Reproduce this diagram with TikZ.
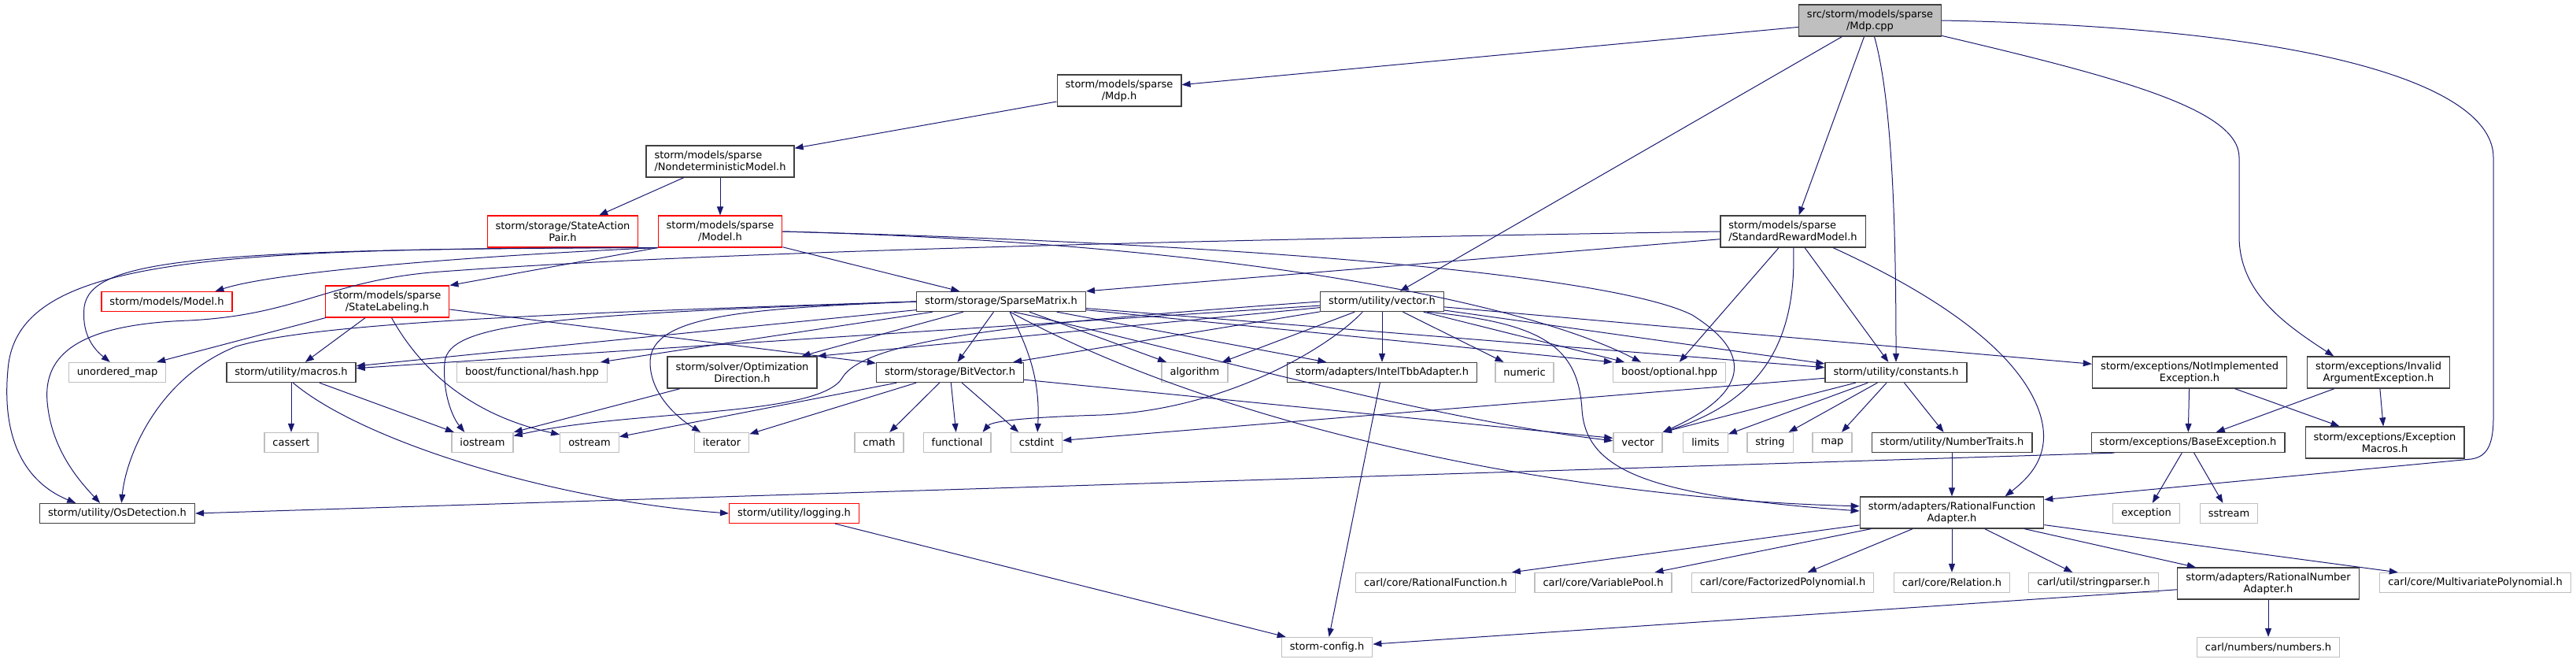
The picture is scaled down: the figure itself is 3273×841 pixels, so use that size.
\documentclass[tikz,border=0pt]{standalone}
\usepackage{fontspec}
\setmainfont{DejaVu Sans}
\usetikzlibrary{arrows.meta}
\definecolor{EdgeBlue}{RGB}{25,25,112}
\definecolor{BoxGray}{RGB}{191,191,191}
\definecolor{BoxDark}{RGB}{64,64,64}
\definecolor{TruncRed}{RGB}{255,0,0}

\begin{document}
\begin{tikzpicture}[x=1pt, y=-1pt,
    hdr/.style={draw=BoxDark, line width=1.3pt, fill=white, text=black, font=\fontsize{13}{15}\selectfont, inner xsep=10.5pt, inner ysep=0pt, minimum height=25pt, align=center},
    sys/.style={hdr, draw=BoxGray},
    trunc/.style={hdr, draw=TruncRed, line width=1.1pt},
    root/.style={hdr, fill=BoxGray},
    twoline/.style={minimum height=40pt},
    incl/.style={EdgeBlue, line width=1pt, -{Triangle[length=11pt,width=8pt]}}]
\useasboundingbox (0,0) rectangle (3273,841);

\node[root, twoline] (mdpcpp) at (2376,26) {src/storm/models/sparse\\/Mdp.cpp};
\node[hdr, twoline] (mdph) at (1422,115) {storm/models/sparse\\/Mdp.h};
\node[hdr, twoline, align=left] (nondet) at (915,205) {storm/models/sparse\\/NondeterministicModel.h};
\node[trunc, twoline] (sap) at (715,294) {storm/storage/StateAction\\Pair.h};
\node[trunc, twoline] (smodel) at (915,294) {storm/models/sparse\\/Model.h};
\node[hdr, twoline, align=left] (srm) at (2278,294) {storm/models/sparse\\/StandardRewardModel.h};
\node[trunc] (mmodel) at (212,383) {storm/models/Model.h};
\node[trunc, twoline] (statelab) at (492,383) {storm/models/sparse\\/StateLabeling.h};
\node[hdr] (sparsemat) at (1272,383) {storm/storage/SparseMatrix.h};
\node[hdr] (vectorh) at (1756,383) {storm/utility/vector.h};
\node[sys] (umap) at (149,473) {unordered\_map};
\node[hdr] (macros) at (370,473) {storm/utility/macros.h};
\node[sys] (hashhpp) at (676,473) {boost/functional/hash.hpp};
\node[hdr, twoline] (optdir) at (943,473) {storm/solver/Optimization\\Direction.h};
\node[hdr] (bitvec) at (1207,473) {storm/storage/BitVector.h};
\node[sys] (algo) at (1518,473) {algorithm};
\node[hdr] (inteltbb) at (1756,473) {storm/adapters/IntelTbbAdapter.h};
\node[sys] (numeric) at (1937,473) {numeric};
\node[sys] (optional) at (2121,473) {boost/optional.hpp};
\node[hdr] (consts) at (2409,473) {storm/utility/constants.h};
\node[hdr, twoline] (notimpl) at (2782,473) {storm/exceptions/NotImplemented\\Exception.h};
\node[hdr, twoline] (invarg) at (3022,473) {storm/exceptions/Invalid\\ArgumentException.h};
\node[sys] (cassert) at (370,562) {cassert};
\node[sys] (iostream) at (613,562) {iostream};
\node[sys] (ostream) at (749,562) {ostream};
\node[sys] (iterator) at (917,562) {iterator};
\node[sys] (cmath) at (1117,562) {cmath};
\node[sys] (functional) at (1216,562) {functional};
\node[sys] (cstdint) at (1317,562) {cstdint};
\node[sys] (stdvec) at (2081,562) {vector};
\node[sys] (limits) at (2167,562) {limits};
\node[sys] (string) at (2249,562) {string};
\node[sys] (map) at (2328,562) {map};
\node[hdr] (numtraits) at (2480,562) {storm/utility/NumberTraits.h};
\node[hdr] (baseexc) at (2780,562) {storm/exceptions/BaseException.h};
\node[hdr, twoline] (excmacros) at (3030,562) {storm/exceptions/Exception\\Macros.h};
\node[hdr] (osdet) at (149,652) {storm/utility/OsDetection.h};
\node[trunc] (logging) at (1009,652) {storm/utility/logging.h};
\node[hdr, twoline] (rfa) at (2480,651) {storm/adapters/RationalFunction\\Adapter.h};
\node[sys] (exception) at (2727,652) {exception};
\node[sys] (sstream) at (2832,652) {sstream};
\node[sys] (carlrf) at (1824,740) {carl/core/RationalFunction.h};
\node[sys] (varpool) at (2037,740) {carl/core/VariablePool.h};
\node[sys] (factpoly) at (2265,740) {carl/core/FactorizedPolynomial.h};
\node[sys] (relation) at (2480,740) {carl/core/Relation.h};
\node[sys] (strparser) at (2660,740) {carl/util/stringparser.h};
\node[hdr, twoline] (rna) at (2882,741) {storm/adapters/RationalNumber\\Adapter.h};
\node[sys] (multipoly) at (3145,740) {carl/core/MultivariatePolynomial.h};
\node[sys] (config) at (1686,822) {storm-config.h};
\node[sys] (numbers) at (2882,822) {carl/numbers/numbers.h};

\draw[incl] (mdpcpp) -- (mdph);
\draw[incl] (mdpcpp) -- (vectorh);
\draw[incl] (mdpcpp) -- (srm);
\draw[incl] (mdpcpp.-75) .. controls (2405,130) and (2409,300) .. (consts.north);
\draw[incl] (mdpcpp.-12) .. controls (2700,100) and (2845,140) .. (2845,200) -- (2845,300) .. controls (2845,370) and (2900,410) .. (invarg.160);
\draw[incl] (mdpcpp.east) .. controls (2950,35) and (3168,110) .. (3168,200) -- (3168,530) .. controls (3168,565) and (3160,580) .. (3140,583) -- (rfa.8);
\draw[incl] (mdph) -- (nondet);
\draw[incl] (nondet) -- (sap);
\draw[incl] (nondet) -- (smodel);
\draw[incl] (smodel.south west) .. controls (600,325) and (350,345) .. (mmodel.12);
\draw[incl] (smodel.south west) -- (statelab.north east);
\draw[incl] (smodel.south west) .. controls (250,315) and (20,330) .. (10,470) .. controls (0,580) and (50,620) .. (osdet.166);
\draw[incl] (smodel.south west) .. controls (250,316) and (115,330) .. (107,390) .. controls (104,420) and (115,440) .. (umap.125);
\draw[incl] (smodel) -- (sparsemat);
\draw[incl] (smodel.east) .. controls (1600,310) and (2050,350) .. (2150,400) .. controls (2230,450) and (2220,500) .. (stdvec.north east);
\draw[incl] (smodel.east) .. controls (1600,310) and (1950,390) .. (optional.160);
\draw[incl] (srm.-174) -- (sparsemat.north east);
\draw[incl] (srm.west) .. controls (1500,305) and (900,320) .. (560,345) .. controls (420,355) and (380,400) .. (240,407) .. controls (100,412) and (55,450) .. (60,510) .. controls (65,570) and (100,610) .. (osdet.149);
\draw[incl] (srm) -- (optional.46);
\draw[incl] (srm.-88) .. controls (2282,420) and (2250,505) .. (stdvec.north east);
\draw[incl] (srm) -- (consts);
\draw[incl] (srm.-22) .. controls (2450,370) and (2560,440) .. (2590,520) .. controls (2610,575) and (2580,605) .. (rfa.17);
\draw[incl] (statelab) -- (umap);
\draw[incl] (statelab) -- (macros);
\draw[incl] (statelab.-75) .. controls (540,480) and (610,530) .. (ostream.165);
\draw[incl] (statelab) -- (bitvec);
\draw[incl] (sparsemat.west) .. controls (700,398) and (400,410) .. (300,440) .. controls (200,480) and (160,580) .. (osdet.68);
\draw[incl] (sparsemat) -- (macros);
\draw[incl] (sparsemat) -- (hashhpp);
\draw[incl] (sparsemat) -- (optdir);
\draw[incl] (sparsemat) -- (bitvec);
\draw[incl] (sparsemat) -- (algo);
\draw[incl] (sparsemat) -- (inteltbb);
\draw[incl] (sparsemat) -- (optional.north west);
\draw[incl] (sparsemat) -- (consts.176);
\draw[incl] (sparsemat.-49) .. controls (1400,460) and (1600,540) .. (1900,595) .. controls (2100,630) and (2250,640) .. (rfa.176);
\draw[incl] (sparsemat.-40) .. controls (1450,430) and (1800,530) .. (stdvec.176);
\draw[incl] (sparsemat.-50) .. controls (1305,440) and (1322,480) .. (cstdint.85);
\draw[incl] (sparsemat.west) .. controls (950,392) and (826,400) .. (826,460) .. controls (826,500) and (860,530) .. (iterator.154);
\draw[incl] (sparsemat.west) .. controls (700,400) and (570,410) .. (565,460) .. controls (562,500) and (575,530) .. (iostream.150);
\draw[incl] (vectorh) -- (macros);
\draw[incl] (vectorh) -- (optdir.north east);
\draw[incl] (vectorh) -- (bitvec);
\draw[incl] (vectorh) -- (algo);
\draw[incl] (vectorh) -- (inteltbb);
\draw[incl] (vectorh) -- (numeric);
\draw[incl] (vectorh) -- (optional.167);
\draw[incl] (vectorh) -- (consts.173);
\draw[incl] (vectorh) -- (notimpl);
\draw[incl] (vectorh.-13) .. controls (1960,410) and (2005,440) .. (2010,520) .. controls (2015,600) and (2100,630) .. (rfa.179);
\draw[incl] (vectorh.-152) .. controls (1690,440) and (1560,520) .. (1400,527) .. controls (1300,530) and (1260,535) .. (functional.22);
\draw[incl] (vectorh.west) .. controls (1300,410) and (1100,430) .. (1070,480) .. controls (1040,530) and (800,520) .. (iostream.12);
\draw[incl] (optdir) -- (iostream.north east);
\draw[incl] (bitvec) -- (ostream);
\draw[incl] (bitvec) -- (iterator);
\draw[incl] (bitvec) -- (cmath);
\draw[incl] (bitvec) -- (functional);
\draw[incl] (bitvec) -- (cstdint.150);
\draw[incl] (bitvec) -- (stdvec.170);
\draw[incl] (inteltbb) -- (config);
\draw[incl] (consts) -- (cstdint);
\draw[incl] (consts) -- (stdvec.north east);
\draw[incl] (consts) -- (limits);
\draw[incl] (consts) -- (string);
\draw[incl] (consts) -- (map);
\draw[incl] (consts) -- (numtraits);
\draw[incl] (notimpl) -- (baseexc);
\draw[incl] (notimpl) -- (excmacros);
\draw[incl] (invarg) -- (baseexc);
\draw[incl] (invarg) -- (excmacros);
\draw[incl] (baseexc.-172) -- (osdet.east);
\draw[incl] (baseexc) -- (exception);
\draw[incl] (baseexc) -- (sstream);
\draw[incl] (numtraits) -- (rfa);
\draw[incl] (macros) -- (cassert);
\draw[incl] (macros) -- (iostream.160);
\draw[incl] (macros.-80) .. controls (460,560) and (700,635) .. (logging.west);
\draw[incl] (logging) -- (config);
\draw[incl] (rfa) -- (carlrf);
\draw[incl] (rfa) -- (varpool);
\draw[incl] (rfa) -- (factpoly);
\draw[incl] (rfa) -- (relation);
\draw[incl] (rfa) -- (strparser);
\draw[incl] (rfa) -- (rna);
\draw[incl] (rfa) -- (multipoly);
\draw[incl] (rna) -- (config);
\draw[incl] (rna) -- (numbers);
\end{tikzpicture}
\end{document}
